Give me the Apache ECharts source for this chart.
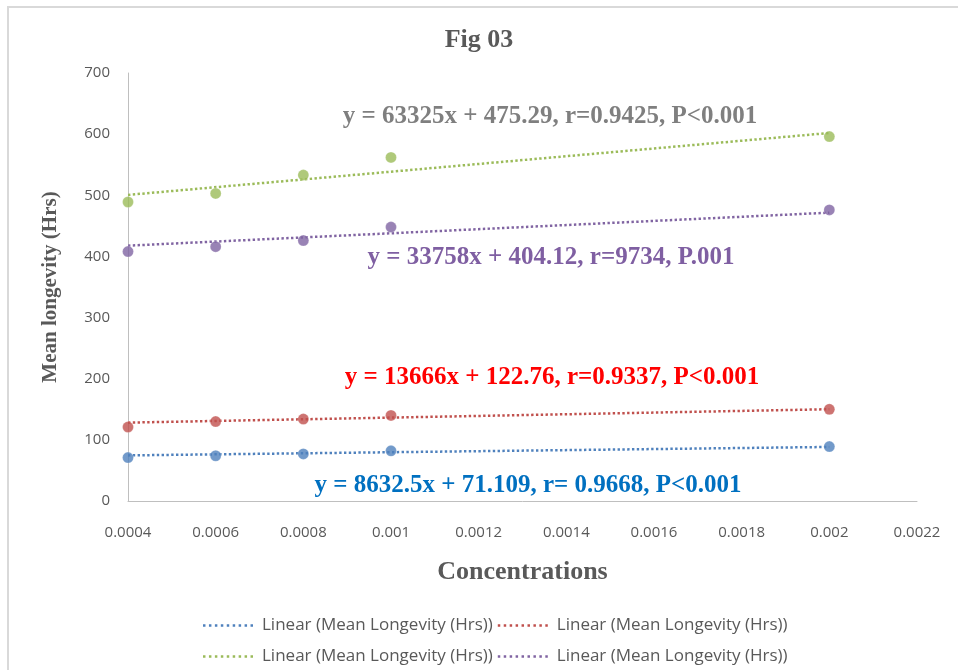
<!DOCTYPE html>
<html>
<head>
<meta charset="utf-8">
<script src="https://cdn.jsdelivr.net/npm/echarts@6/dist/echarts.min.js"></script>
<style>html,body{margin:0;padding:0;background:#fff}#c{width:958px;height:670px}</style>
</head>
<body>
<div id="c"></div>
<script>
// ---- data ----
const concentrations = [0.0004, 0.0006, 0.0008, 0.001, 0.002];
const blueValues   = [71, 74, 77, 82, 89];
const redValues    = [121, 130, 134, 140, 150];
const greenValues  = [489, 503, 533, 562, 596];
const purpleValues = [408, 416, 426, 448, 476];
// trend line end points (x = 0.0004 and x = 0.002)
const trendX = [0.0004, 0.002];
const blueTrend   = [74.6, 88.4];
const redTrend    = [128.2, 150.1];
const greenTrend  = [500.6, 601.9];
const purpleTrend = [417.6, 471.6];
const xTicks = {min: 0.0004, max: 0.0022, interval: 0.0002};
const yTicks = {min: 0, max: 700, interval: 100};
const legendLabel = 'Linear (Mean Longevity (Hrs))';
const equations = [
  {text: 'y = 63325x + 475.29, r=0.9425, P<0.001', color: '#7f7f7f'},
  {text: 'y = 33758x + 404.12, r=9734, P.001', color: '#7f5fa2'},
  {text: 'y = 13666x + 122.76, r=0.9337, P<0.001', color: '#ff0000'},
  {text: 'y = 8632.5x + 71.109, r= 0.9668, P<0.001', color: '#0070c0'}
];

const colors = {blue: '#4f81bd', red: '#c0504d', green: '#9bbb59', purple: '#8064a2'};
const serif = '"Liberation Serif", "Times New Roman", serif';
const sans = '"Liberation Sans Narrow", "Open Sans", "Liberation Sans", sans-serif';

function pairs(xs, ys) { return xs.map((x, i) => [x, ys[i]]); }

const groups = [
  ['blue', blueValues, blueTrend],
  ['red', redValues, redTrend],
  ['green', greenValues, greenTrend],
  ['purple', purpleValues, purpleTrend]
];

const series = [];
groups.forEach(([k, vals, tr]) => {
  series.push({
    type: 'scatter', name: k + '-pts', data: pairs(concentrations, vals),
    symbolSize: 11, itemStyle: {color: colors[k], borderColor: 'rgba(255,255,255,0.5)', borderWidth: 0.5},
    z: 3
  });
});
groups.forEach(([k, vals, tr]) => {
  series.push({
    type: 'line', name: k, data: pairs(trendX, tr), symbol: 'none',
    lineStyle: {color: colors[k], width: 2.5, type: [2.4, 2.4]},
    itemStyle: {color: colors[k]}, z: 2
  });
});

const eqPos = [
  {left: 545, top: 112},
  {left: 546, top: 253},
  {left: 547, top: 373},
  {left: 523, top: 481}
];

const titles = [{
  text: 'Fig 03', left: 'center', top: 22,
  textStyle: {fontFamily: serif, fontWeight: 'bold', fontSize: 26, color: '#595959'}
}];
equations.forEach((e, i) => {
  titles.push({
    text: e.text, left: eqPos[i].left, top: eqPos[i].top,
    textAlign: 'center', textVerticalAlign: 'middle',
    textStyle: {fontFamily: serif, fontWeight: 'bold', fontSize: 25, color: e.color}
  });
});

// dotted legend icon: 9 dots
let dotPath = 'path://';
for (let i = 0; i < 9; i++) { dotPath += 'M' + (i * 6) + ',0h2.5v2.5h-2.5z'; }

const legendCommon = {
  left: 198, icon: dotPath, itemWidth: 50, itemHeight: 2.5, itemGap: 5,
  formatter: () => legendLabel,
  textStyle: {fontFamily: sans, fontSize: 17, color: '#595959', padding: [0, 0, 0, 4]},
  selectedMode: false
};

const chart = echarts.init(document.getElementById('c'));
chart.setOption({
  animation: false,
  backgroundColor: '#fff',
  title: titles,
  graphic: [{
    type: 'rect', shape: {x: 8, y: 7, width: 1000, height: 700},
    style: {fill: 'none', stroke: '#d9d9d9', lineWidth: 2}, silent: true
  }],
  grid: {left: 128, right: 41, top: 73, bottom: 169},
  xAxis: {
    type: 'value', min: xTicks.min, max: xTicks.max, interval: xTicks.interval,
    name: 'Concentrations', nameLocation: 'middle', nameGap: 58,
    nameTextStyle: {fontFamily: serif, fontWeight: 'bold', fontSize: 26, color: '#595959'},
    axisLine: {show: true, lineStyle: {color: '#bfbfbf', width: 1}},
    axisTick: {show: false}, splitLine: {show: false},
    axisLabel: {fontFamily: sans, fontSize: 15, color: '#595959', margin: 24}
  },
  yAxis: {
    type: 'value', min: yTicks.min, max: yTicks.max, interval: yTicks.interval,
    name: 'Mean longevity (Hrs)', nameLocation: 'middle', nameGap: 67, nameRotate: 90,
    nameTextStyle: {fontFamily: serif, fontWeight: 'bold', fontSize: 21, color: '#595959'},
    axisLine: {show: true, lineStyle: {color: '#bfbfbf', width: 1}},
    axisTick: {show: false}, splitLine: {show: false},
    axisLabel: {fontFamily: sans, fontSize: 15, color: '#595959', margin: 18}
  },
  legend: [
    Object.assign({data: ['blue', 'red'], top: 612}, legendCommon),
    Object.assign({data: ['green', 'purple'], top: 643}, legendCommon)
  ],
  series: series
});
</script>
</body>
</html>
